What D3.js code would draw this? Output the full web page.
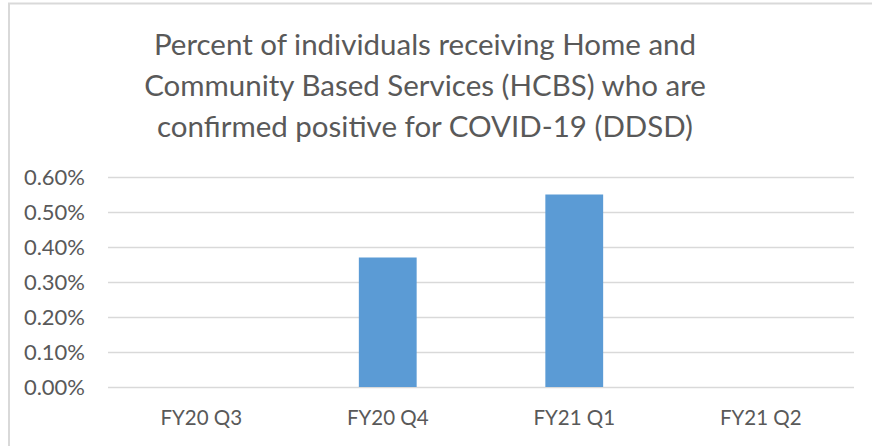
<!DOCTYPE html>
<html>
<head>
<meta charset="utf-8">
<script src="https://cdn.jsdelivr.net/npm/d3@7"></script>
<style>
  body { margin: 0; background: #fff; }
  text { font-family: Lato, "Open Sans", sans-serif; fill: #595959; }
</style>
</head>
<body>
<div class="chart"></div>
<script>
const titleLines = [
    "Percent of individuals receiving Home and",
    "Community Based Services (HCBS) who are",
    "confirmed positive for COVID-19 (DDSD)"
];
const categories = ["FY20 Q3", "FY20 Q4", "FY21 Q1", "FY21 Q2"];
const values = [null, 0.0037, 0.0055, null];
const yTicks = [0, 0.001, 0.002, 0.003, 0.004, 0.005, 0.006];

function drawChart() {
    const width = 872,
        height = 446;
    const margin = { top: 177, right: 18, bottom: 59, left: 108 };

    const svg = d3.select(".chart").append("svg")
        .attr("width", width)
        .attr("height", height);

    // chart area border (only top and left edges are in view)
    svg.append("path")
        .attr("d", `M9,${height} V3.5 H${width}`)
        .attr("fill", "none")
        .attr("stroke", "#d9d9d9")
        .attr("stroke-width", 2);

    svg.append("g")
        .selectAll("text")
        .data(titleLines)
        .join("text")
            .attr("x", 425)
            .attr("y", (d, i) => 55 + i * 41)
            .attr("text-anchor", "middle")
            .style("font-size", "29.5px")
            .text(d => d);

    const x = d3.scaleBand()
        .domain(categories)
        .range([margin.left, width - margin.right])
        .paddingInner(0.69)
        .paddingOuter(0.345);

    const y = d3.scaleLinear()
        .domain([0, 0.006])
        .range([height - margin.bottom, margin.top]);

    const yAxis = g => g
        .attr("transform", `translate(${margin.left}, 0)`)
        .call(d3.axisLeft(y)
            .tickValues(yTicks)
            .tickFormat(d3.format(".2%"))
            .tickSize(-(width - margin.left - margin.right))
            .tickPadding(23))
        .call(g => g.select(".domain").remove())
        .call(g => g.selectAll(".tick line").attr("stroke", "#d9d9d9").attr("stroke-width", 1.5))
        .call(g => g.selectAll(".tick text")
            .style("font-size", "22px")
            .attr("fill", "#595959"));

    svg.append("g").call(yAxis);

    svg.append("g")
        .selectAll("rect")
        .data(categories.map((c, i) => ({ name: c, value: values[i] })).filter(d => d.value != null))
        .join("rect")
            .attr("x", d => x(d.name))
            .attr("y", d => y(d.value))
            .attr("width", x.bandwidth())
            .attr("height", d => y(0) - y(d.value))
            .attr("fill", "#5b9bd5");

    const xAxis = g => g
        .attr("transform", `translate(0, ${height - margin.bottom})`)
        .call(d3.axisBottom(x).tickSize(0).tickPadding(23))
        .call(g => g.select(".domain").remove())
        .call(g => g.selectAll(".tick text")
            .style("font-size", "20.5px")
            .attr("fill", "#595959"));

    svg.append("g").call(xAxis);
}

drawChart();
</script>
</body>
</html>
